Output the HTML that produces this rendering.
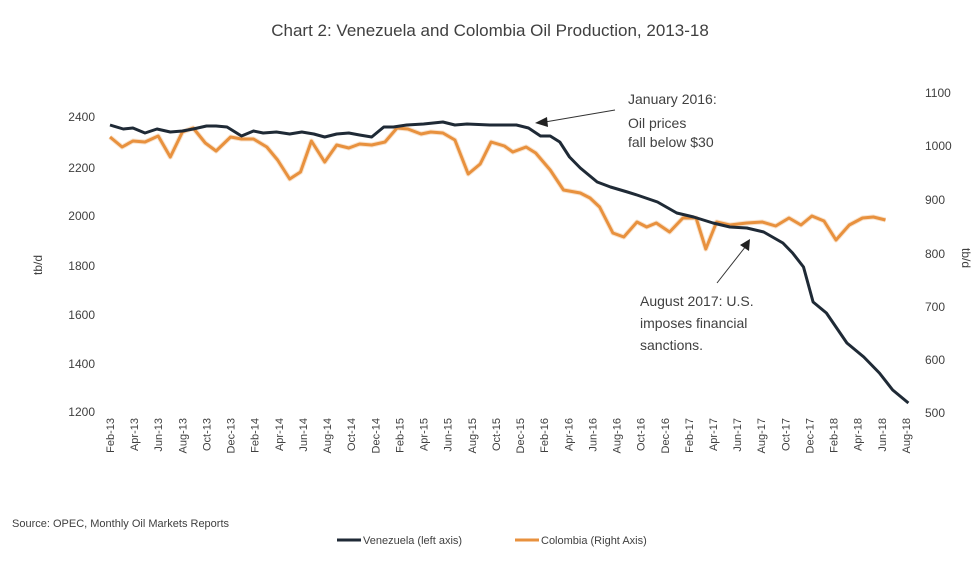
<!DOCTYPE html>
<html><head><meta charset="utf-8"><style>
body{margin:0;background:#fff;}
svg text{font-family:"Liberation Sans",sans-serif;fill:#404040;}
</style></head><body>
<svg width="980" height="560" viewBox="0 0 980 560" xmlns="http://www.w3.org/2000/svg">
<text x="490" y="36" font-size="17" text-anchor="middle" fill="#222">Chart 2: Venezuela and Colombia Oil Production, 2013-18</text>
<g font-size="12" text-anchor="end">
<text x="95" y="121">2400</text><text x="95" y="172">2200</text><text x="95" y="220">2000</text><text x="95" y="270">1800</text><text x="95" y="319">1600</text><text x="95" y="368">1400</text><text x="95" y="416">1200</text>
</g>
<g font-size="12">
<text x="925" y="97">1100</text><text x="925" y="150">1000</text><text x="925" y="204">900</text><text x="925" y="258">800</text><text x="925" y="311">700</text><text x="925" y="364">600</text><text x="925" y="417">500</text>
</g>
<text font-size="12" transform="translate(42,265) rotate(-90)" text-anchor="middle">tb/d</text>
<text font-size="12" transform="translate(962,258) rotate(90)" text-anchor="middle">tb/d</text>
<g font-size="11" text-anchor="end" id="xl"></g>
<polyline fill="none" stroke="#f4c89c" stroke-width="5" stroke-linejoin="round" opacity="0.5" id="c2"/>
<polyline fill="none" stroke="#e8913e" stroke-width="3" stroke-linejoin="round" id="c"/>
<polyline fill="none" stroke="#1f2a36" stroke-width="3" stroke-linejoin="round" id="v"/>
<g font-size="14" fill="#333">
<text x="628" y="104">January 2016:</text>
<text x="628" y="128">Oil prices</text>
<text x="628" y="147">fall below $30</text>
<text x="640" y="306">August 2017:  U.S.</text>
<text x="640" y="328">imposes financial</text>
<text x="640" y="350">sanctions.</text>
</g>
<line x1="615" y1="110" x2="545" y2="122" stroke="#333" stroke-width="1"/>
<polygon points="535,123 547,117 548,127" fill="#222"/>
<line x1="717" y1="283" x2="746" y2="246" stroke="#333" stroke-width="1"/>
<polygon points="750,239 749,251 740,245" fill="#222"/>
<text x="12" y="527" font-size="11">Source: OPEC, Monthly Oil Markets Reports</text>
<line x1="337" y1="540" x2="361" y2="540" stroke="#1f2a36" stroke-width="3"/>
<text x="363" y="544" font-size="11">Venezuela (left axis)</text>
<line x1="515" y1="540" x2="539" y2="540" stroke="#e8913e" stroke-width="3"/>
<text x="541" y="544" font-size="11">Colombia (Right Axis)</text>
</svg>
<script>
var X=function(i){return 110+i*12.06;};
var v=[[0,125],[1.1,129],[1.9,128],[2.9,133],[3.9,129],[5,132],[6,131],[6.9,129],[8,126],[8.8,126],[9.7,127],[10.9,136],[11.9,131],[12.7,133],[13.8,132],[14.9,134],[15.9,132],[16.9,134],[17.8,137],[18.8,134],[19.8,133],[20.7,135],[21.7,137],[22.7,127],[23.5,127],[24.6,125],[26,124],[27.6,122],[28.6,125],[29.6,124],[31.5,125],[33.7,125],[34.7,128],[35.7,136],[36.5,136],[37.3,142],[38.1,157],[39,168],[40.4,182],[41.5,187],[42.9,192],[43.7,195],[45.4,202],[47,213],[48.4,217],[50,223],[51.4,227],[52.8,228],[54.2,232],[55.8,243],[56.6,253],[57.5,267],[58.3,302],[59.4,313],[61.1,343],[62.5,357],[63.8,373],[64.9,390],[66.2,403]];
var c=[[0,137],[1,147],[1.9,141],[2.9,142],[4,136],[5,157],[6,132],[6.9,128],[7.9,143],[8.8,151],[10,137],[10.9,139],[11.9,139],[13,147],[13.9,160],[14.9,179],[15.8,172],[16.7,141],[17.8,162],[18.8,145],[19.8,148],[20.7,144],[21.7,145],[22.8,142],[23.8,128],[24.7,129],[25.8,134],[26.6,132],[27.6,133],[28.6,140],[29.7,174],[30.7,164],[31.6,142],[32.7,146],[33.4,152],[34.5,147],[35.3,153],[36.5,170],[37.6,190],[39,193],[39.8,198],[40.6,207],[41.7,233],[42.6,237],[43.7,222],[44.5,227],[45.3,223],[46.4,232],[47.5,218],[48.6,218],[49.4,249],[50.3,222],[51.4,225],[52.8,223],[54.1,222],[55.2,226],[56.3,218],[57.3,225],[58.2,216],[59.2,221],[60.2,240],[61.3,225],[62.4,218],[63.3,217],[64.3,220]];
function pts(a){return a.map(function(p){return X(p[0]).toFixed(1)+","+p[1];}).join(" ");}
document.getElementById("v").setAttribute("points",pts(v));
document.getElementById("c").setAttribute("points",pts(c));
document.getElementById("c2").setAttribute("points",pts(c));
var m=["Feb","Apr","Jun","Aug","Oct","Dec"],g=document.getElementById("xl"),s="";
for(var k=0;k<34;k++){var yr=13+Math.floor(k/6);var x=X(k*2)+4;
s+='<text transform="translate('+x.toFixed(1)+',418) rotate(-90)">'+m[k%6]+'-'+yr+'</text>';}
g.innerHTML=s;
</script>
</body></html>
